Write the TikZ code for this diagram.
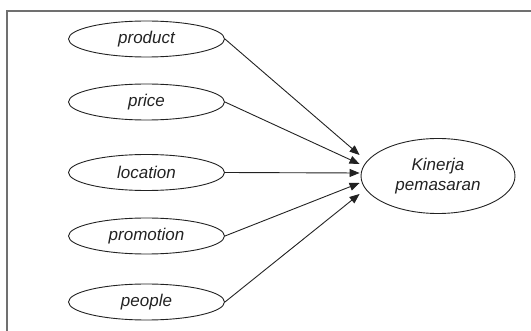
\documentclass[tikz,border=0pt]{standalone}
\usepackage{fontspec}
\setmainfont{Liberation Sans}
\usetikzlibrary{shapes.geometric,arrows.meta}
\definecolor{ink}{HTML}{222222}
\definecolor{framegray}{HTML}{707070}
\begin{document}
\begin{tikzpicture}[x=1pt,y=-1pt,
  var/.style={ellipse,draw=ink,line width=0.9pt,minimum width=156pt,minimum height=36pt,inner sep=0pt,
    font=\fontsize{17}{20}\selectfont\itshape,text=ink},
  big/.style={var,minimum width=154pt,minimum height=75pt,align=center},
  arr/.style={draw=ink,line width=0.9pt,-{Triangle[length=10pt,width=8pt]}}]
\useasboundingbox (0,0) rectangle (531,331);
\draw[framegray,line width=1.3pt] (7,331) -- (7,11) -- (531,11);
\node[var] (p1) at (146.5,39) {product};
\node[var] (p2) at (146.5,102) {price};
\node[var] (p3) at (146.5,172.5) {location};
\node[var] (p4) at (146.5,236) {promotion};
\node[var] (p5) at (146.5,302) {people};
\node[big] (k) at (438,176) {Kinerja\\pemasaran};
\coordinate (t1) at ([xshift=-1pt,yshift=21pt]k.west);
\coordinate (t2) at ([xshift=-1pt,yshift=12pt]k.west);
\coordinate (t3) at ([xshift=-1pt,yshift=3pt]k.west);
\coordinate (t4) at ([xshift=-1pt,yshift=-7pt]k.west);
\coordinate (t5) at ([xshift=-1pt,yshift=-18pt]k.west);
\draw[arr] (p1.east) -- (t1);
\draw[arr] (p2.east) -- (t2);
\draw[arr] (p3.east) -- (t3);
\draw[arr] (p4.east) -- (t4);
\draw[arr] (p5.east) -- (t5);
\end{tikzpicture}
\end{document}
